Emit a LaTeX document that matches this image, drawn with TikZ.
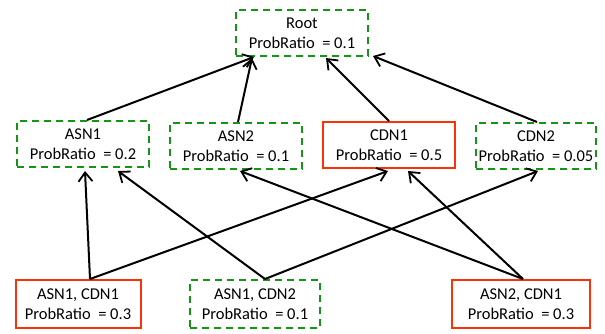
\documentclass[tikz,border=0pt]{standalone}
\usepackage{fontspec}
\setmainfont{Carlito}
\usetikzlibrary{arrows.meta}
\definecolor{dgreen}{RGB}{20,150,20}
\definecolor{hred}{RGB}{250,50,10}
\tikzset{
	cand/.style={draw=dgreen,dashed,dash pattern=on 7pt off 5pt,line width=2pt,minimum width=132pt,minimum height=46pt,align=center,inner sep=1pt,font=\fontsize{16.5}{20}\selectfont},
	hit/.style={cand,draw=hred,solid},
	arr/.style={-{Straight Barb[length=9pt,width=14pt,line width=1.8pt]},line width=2pt}
}
\begin{document}
\begin{tikzpicture}[x=1pt,y=-1pt]
		\useasboundingbox (0,0) rectangle (605,333);
		\node[cand] (root) at (302,33) {Root\\ProbRatio \ = 0.1};
		\node[cand] (asn1) at (83,144) {ASN1\\ProbRatio \ = 0.2};
		\node[cand] (asn2) at (236,146) {ASN2\\ProbRatio \ = 0.1};
		\node[hit] (cdn1) at (389,145) {CDN1\\ProbRatio \ = 0.5};
		\node[cand,minimum width=120pt] (cdn2) at (536,146) {CDN2\\ProbRatio \ = 0.05};
		\node[hit,minimum width=125pt,minimum height=48pt] (a1c1) at (78,304) {ASN1, CDN1\\ProbRatio \ = 0.3};
		\node[cand,minimum width=130pt,minimum height=48pt] (a1c2) at (255,304) {ASN1, CDN2\\ProbRatio \ = 0.1};
		\node[hit,minimum width=138pt,minimum height=48pt] (a2c1) at (521,304) {ASN2, CDN1\\ProbRatio \ = 0.3};
		\draw[arr] ([xshift=4pt]asn1.north) -- ([xshift=19pt]root.south west);
		\draw[arr] ([xshift=2pt]asn2.north) -- ([xshift=17pt,yshift=-1pt]root.south west);
		\draw[arr] (cdn1.north) -- ([xshift=-43pt,yshift=-1pt]root.south east);
		\draw[arr] ([xshift=1pt]cdn2.north) -- ([xshift=4pt,yshift=1pt]root.south east);
		\draw[arr] ([xshift=12pt]a1c1.north) -- ([xshift=2pt,yshift=-3pt]asn1.south);
		\draw[arr] ([xshift=12pt]a1c1.north) -- ([xshift=-1pt,yshift=-2pt]cdn1.south);
		\draw[arr] ([xshift=10pt]a1c2.north) -- ([xshift=35pt,yshift=-3pt]asn1.south);
		\draw[arr] ([xshift=10pt]a1c2.north) -- ([xshift=2pt,yshift=-1pt]cdn2.south);
		\draw[arr] ([xshift=2pt]a2c1.north) -- ([xshift=4pt,yshift=-1pt]asn2.south);
		\draw[arr] ([xshift=2pt]a2c1.north) -- ([xshift=19pt,yshift=-2pt]cdn1.south);
	\end{tikzpicture}
\end{document}
